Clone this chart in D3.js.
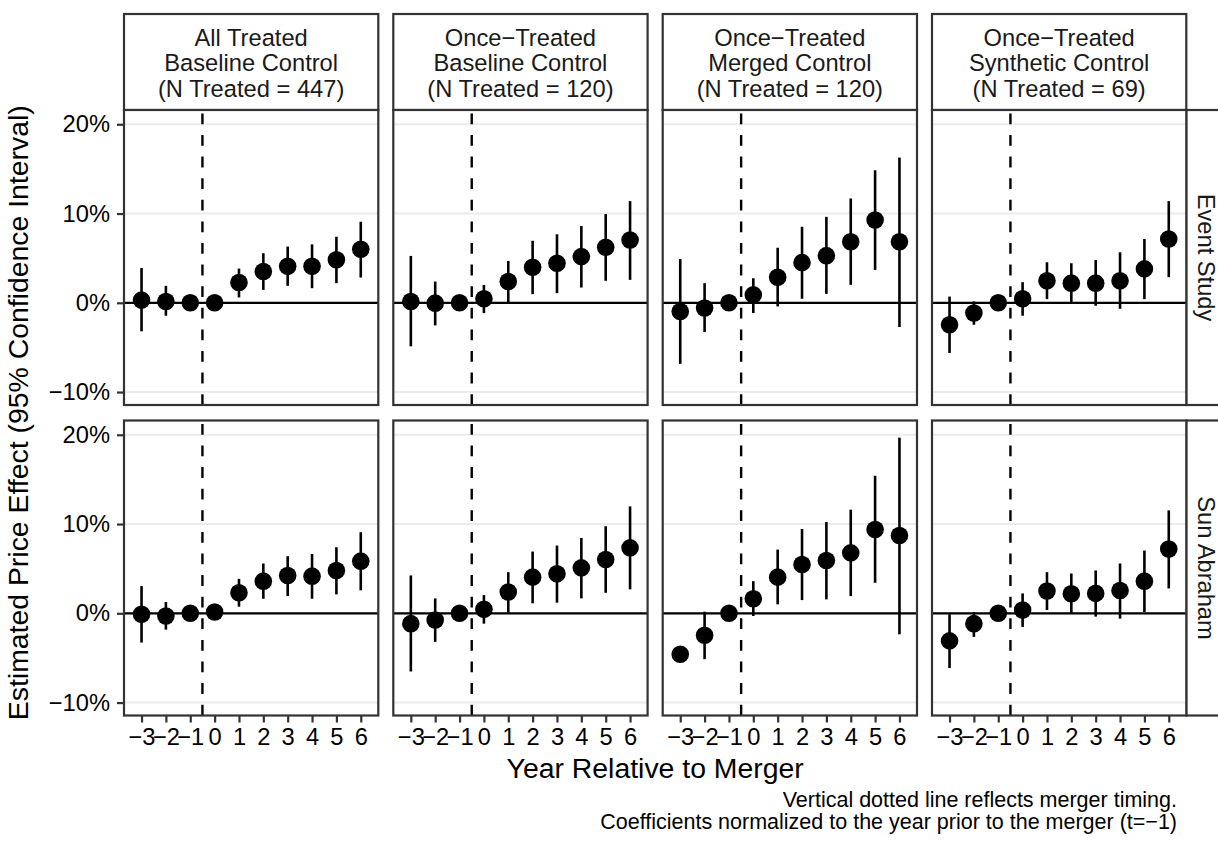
<!DOCTYPE html>
<html>
<head>
<meta charset="utf-8">
<script src="https://cdn.jsdelivr.net/npm/d3@7"></script>
<style>
  body { margin: 0; background: #fff; }
  svg { display: block; font-family: "Liberation Sans", Arial, sans-serif; }
</style>
</head>
<body>
<svg id="chart" width="1218" height="846"></svg>
<script>
// Event-study coefficients, two estimators x four samples
const years = [-3, -2, -1, 0, 1, 2, 3, 4, 5, 6];
const yTicks = [-10, 0, 10, 20];
const colLabels = [
    ["All Treated", "Baseline Control", "(N Treated = 447)"],
    ["Once\u2212Treated", "Baseline Control", "(N Treated = 120)"],
    ["Once\u2212Treated", "Merged Control", "(N Treated = 120)"],
    ["Once\u2212Treated", "Synthetic Control", "(N Treated = 69)"]
];
const rowLabels = ["Event Study", "Sun Abraham"];

// Event Study row (percent); null = no interval drawn
const esEst = [
    [0.3, 0.15, 0, 0, 2.27, 3.5, 4.1, 4.1, 4.83, 6.0],
    [0.15, -0.04, 0, 0.45, 2.38, 3.98, 4.43, 5.17, 6.22, 7.03],
    [-0.97, -0.59, 0, 0.89, 2.87, 4.5, 5.28, 6.84, 9.27, 6.84],
    [-2.46, -1.15, 0, 0.45, 2.46, 2.2, 2.2, 2.46, 3.8, 7.15]
];
const esLow = [
    [-3.2, -1.45, null, -0.5, 0.6, 1.45, 1.9, 1.64, 2.2, 2.83],
    [-4.88, -2.53, null, -1.15, 0.07, 0.97, 1.08, 1.71, 2.46, 2.57],
    [-6.84, -3.27, null, -1.15, -0.41, 0.45, 1.0, 2.01, 3.68, -2.71],
    [-5.62, -2.46, null, -1.45, 0.41, 0.03, -0.33, -0.67, 0.41, 2.87]
];
const esHigh = [
    [3.9, 1.9, null, 0.5, 3.83, 5.55, 6.3, 6.55, 7.4, 9.08],
    [5.25, 2.38, null, 2.0, 4.69, 6.95, 7.67, 8.6, 9.94, 11.39],
    [4.91, 2.2, null, 2.75, 6.17, 8.52, 9.63, 11.69, 14.85, 16.27],
    [0.7, 0.15, null, 2.31, 4.54, 4.43, 4.8, 5.66, 7.15, 11.39]
];

// Sun Abraham row (percent)
const saEst = [
    [-0.11, -0.3, 0, 0.15, 2.3, 3.6, 4.24, 4.16, 4.8, 5.84],
    [-1.16, -0.75, 0, 0.45, 2.38, 4.05, 4.42, 5.09, 6.03, 7.33],
    [-4.58, -2.46, 0, 1.63, 4.05, 5.47, 5.92, 6.77, 9.38, 8.71],
    [-3.09, -1.16, 0, 0.37, 2.49, 2.19, 2.23, 2.56, 3.6, 7.21]
];
const saLow = [
    [-3.28, -1.83, null, -0.4, 0.74, 1.63, 1.93, 1.63, 2.12, 2.57],
    [-6.52, -3.2, null, -1.16, 0.07, 1.12, 1.19, 1.67, 2.3, 2.68],
    [null, -5.14, null, -0.3, 1.0, 1.48, 1.56, 1.93, 3.42, -2.35],
    [-6.14, -2.64, null, -1.53, 0.37, 0.0, -0.37, -0.6, 0.15, 2.79]
];
const saHigh = [
    [3.05, 1.26, null, 0.5, 3.86, 5.58, 6.4, 6.65, 7.4, 9.08],
    [4.24, 1.67, null, 2.04, 4.61, 6.92, 7.59, 8.44, 9.75, 11.98],
    [null, 0.18, null, 3.6, 7.14, 9.45, 10.23, 11.61, 15.41, 19.68],
    [-0.11, 0.15, null, 2.23, 4.61, 4.46, 4.8, 5.58, 7.03, 11.53]
];

const rows = [
    { est: esEst, low: esLow, high: esHigh },
    { est: saEst, low: saLow, high: saHigh }
];

const svg = d3.select("#chart");

const panelW = 254.3, panelH = 295;
const colX = [124, 393.3, 662.7, 932];
const rowY = [110, 420.5];
const stripTop = 14;
const border = "#333333";
const small = "23.7px", big = "28.4px";

const x = d3.scaleLinear().domain([-3.72, 6.72]).range([0, panelW]);
const y = d3.scaleLinear().domain([-11.45, 21.6]).range([panelH, 0]);
const pct = d => (d < 0 ? "\u2212" + Math.abs(d) : d) + "%";
const minus = d => (d < 0 ? "\u2212" + Math.abs(d) : String(d));

// column strips
colLabels.forEach((lines, c) => {
    const g = svg.append("g").attr("transform", `translate(${colX[c]},${stripTop})`);
    g.append("rect").attr("width", panelW).attr("height", rowY[0] - stripTop)
        .attr("fill", "#fff").attr("stroke", border).attr("stroke-width", 2.2);
    lines.forEach((t, i) => {
        g.append("text").attr("x", panelW / 2).attr("y", 31.5 + i * 25.5)
            .attr("text-anchor", "middle").style("font-size", small).style("fill", "#1a1a1a")
            .text(t);
    });
});

rows.forEach((row, r) => {
    // row strip on the right
    const sg = svg.append("g").attr("transform", `translate(${colX[3] + panelW},${rowY[r]})`);
    sg.append("rect").attr("width", 60).attr("height", panelH)
        .attr("fill", "#fff").attr("stroke", border).attr("stroke-width", 2.2);
    sg.append("text").attr("transform", `translate(12,${panelH / 2}) rotate(90)`)
        .attr("text-anchor", "middle").style("font-size", small).style("fill", "#1a1a1a")
        .text(rowLabels[r]);

    for (let c = 0; c < 4; c++) {
        const g = svg.append("g").attr("transform", `translate(${colX[c]},${rowY[r]})`);
        g.append("rect").attr("width", panelW).attr("height", panelH).attr("fill", "#fff");

        // horizontal grid
        g.selectAll(".grid").data(yTicks).join("line")
            .attr("x1", 0).attr("x2", panelW).attr("y1", d => y(d)).attr("y2", d => y(d))
            .attr("stroke", "#ebebeb").attr("stroke-width", 2);

        // zero line
        g.append("line").attr("x1", 0).attr("x2", panelW).attr("y1", y(0)).attr("y2", y(0))
            .attr("stroke", "#000").attr("stroke-width", 2.2);

        // merger timing
        g.append("line").attr("x1", x(-0.5)).attr("x2", x(-0.5))
            .attr("y1", panelH).attr("y2", 0)
            .attr("stroke", "#000").attr("stroke-width", 2.4)
            .attr("stroke-dasharray", "10.8,10.8");

        const pts = years.map((t, i) => ({ t, est: row.est[c][i], lo: row.low[c][i], hi: row.high[c][i] }));

        g.selectAll(".ci").data(pts.filter(d => d.lo !== null && d.hi !== null)).join("line")
            .attr("x1", d => x(d.t)).attr("x2", d => x(d.t))
            .attr("y1", d => y(d.lo)).attr("y2", d => y(d.hi))
            .attr("stroke", "#000").attr("stroke-width", 2.6);

        g.selectAll(".pt").data(pts).join("circle")
            .attr("cx", d => x(d.t)).attr("cy", d => y(d.est)).attr("r", 8.8)
            .attr("fill", "#000");

        g.append("rect").attr("width", panelW).attr("height", panelH)
            .attr("fill", "none").attr("stroke", border).attr("stroke-width", 2.2);

        if (c === 0) {
            const ya = g.append("g").call(d3.axisLeft(y).tickValues(yTicks).tickFormat(pct).tickSize(7).tickPadding(7));
            ya.select(".domain").remove();
            ya.selectAll(".tick line").attr("stroke", border).attr("stroke-width", 2.2);
            ya.selectAll(".tick text").style("font-size", small).style("font-family", "Liberation Sans, Arial, sans-serif").attr("fill", "#000");
        }
        if (r === 1) {
            const xa = g.append("g").attr("transform", `translate(0,${panelH})`)
                .call(d3.axisBottom(x).tickValues(years).tickFormat(minus).tickSize(7).tickPadding(5.5));
            xa.select(".domain").remove();
            xa.selectAll(".tick line").attr("stroke", border).attr("stroke-width", 2.2);
            xa.selectAll(".tick text").style("font-size", small).style("font-family", "Liberation Sans, Arial, sans-serif").attr("fill", "#000");
        }
    }
});

// axis titles
svg.append("text").attr("x", (colX[0] + colX[3] + panelW) / 2).attr("y", 778)
    .attr("text-anchor", "middle").style("font-size", big).text("Year Relative to Merger");
svg.append("text").attr("transform", `translate(28,${(rowY[0] + rowY[1] + panelH) / 2}) rotate(-90)`)
    .attr("text-anchor", "middle").style("font-size", big)
    .text("Estimated Price Effect (95% Confidence Interval)");

// caption
const caption = ["Vertical dotted line reflects merger timing.",
    "Coefficients normalized to the year prior to the merger (t=\u22121)"];
caption.forEach((t, i) => {
    svg.append("text").attr("x", 1177).attr("y", 807 + i * 22)
        .attr("text-anchor", "end").style("font-size", "21.5px").text(t);
});
</script>
</body>
</html>
